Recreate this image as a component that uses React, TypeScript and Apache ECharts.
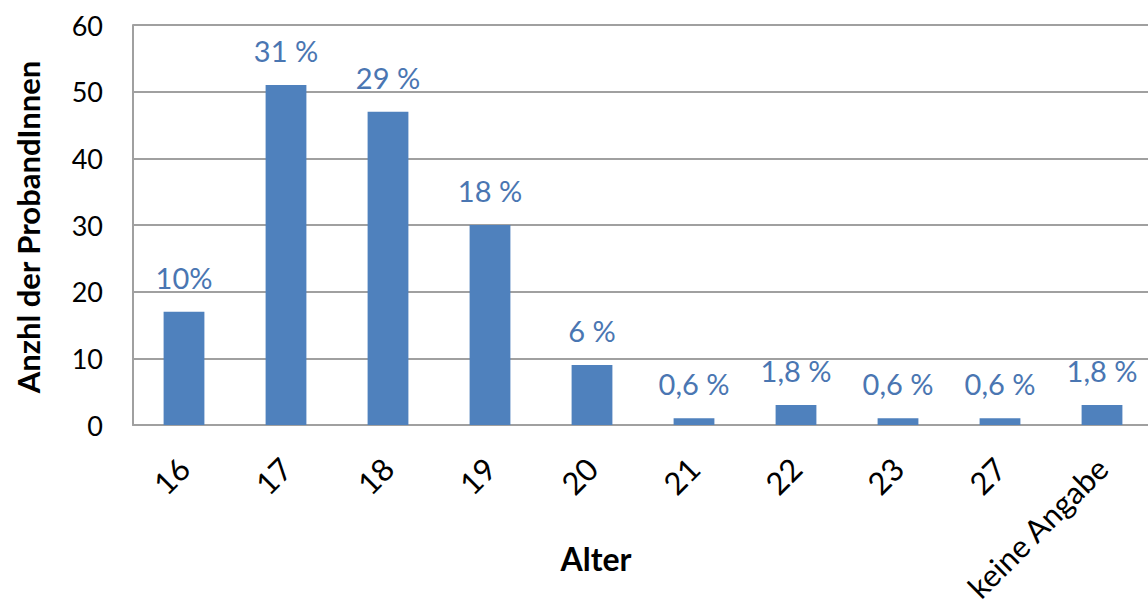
import React, { useEffect, useRef } from "react";
import * as echarts from "echarts";

const categories = ["16", "17", "18", "19", "20", "21", "22", "23", "27", "keine Angabe"];
const counts = [17, 51, 47, 30, 9, 1, 3, 1, 1, 3];
const percentLabels = ["10%", "31 %", "29 %", "18 %", "6 %", "0,6 %", "1,8 %", "0,6 %", "0,6 %", "1,8 %"];
const yTicks = { min: 0, max: 60, interval: 10 };
const yTitle = "Anzhl der ProbandInnen";
const xTitle = "Alter";

export default function App() {
  const ref = useRef<HTMLDivElement>(null);
  useEffect(() => {
    document.body.style.margin = "0";
    if (!ref.current) return;
    const chart = echarts.init(ref.current, null, { renderer: "svg" });
    const font = "Lato, 'Open Sans', sans-serif";
    chart.setOption({
      animation: false,
      backgroundColor: "#ffffff",
      grid: { left: 133, right: 7, top: 25, bottom: 185, containLabel: false },
      xAxis: {
        type: "category",
        data: categories,
        axisLine: { show: true, lineStyle: { color: "#a0a0a0", width: 2 } },
        axisTick: { show: false },
        axisLabel: {
          rotate: 45,
          margin: 38,
          fontSize: 31,
          color: "#000000",
          fontFamily: font,
          interval: 0,
        },
      },
      yAxis: {
        type: "value",
        min: yTicks.min,
        max: yTicks.max,
        interval: yTicks.interval,
        axisLine: { show: true, lineStyle: { color: "#a0a0a0", width: 2 } },
        axisTick: { show: false },
        splitLine: { show: true, lineStyle: { color: "#a0a0a0", width: 2 } },
        axisLabel: { fontSize: 27, color: "#000000", margin: 30, fontFamily: font },
      },
      graphic: [
        {
          type: "text",
          x: 28,
          y: 227,
          rotation: Math.PI / 2,
          style: {
            text: yTitle,
            font: `bold 31px ${font}`,
            fill: "#000000",
            textAlign: "center",
            textVerticalAlign: "middle",
          },
        },
        {
          type: "text",
          x: 596,
          y: 558,
          style: {
            text: xTitle,
            font: `bold 32px ${font}`,
            fill: "#000000",
            textAlign: "center",
            textVerticalAlign: "middle",
          },
        },
      ],
      series: [
        {
          type: "bar",
          data: counts,
          barWidth: "40%",
          itemStyle: { color: "#4F81BD" },
          label: {
            show: true,
            position: "top",
            distance: 20,
            fontSize: 29,
            color: "#4A76B2",
            fontFamily: font,
            formatter: (p: any) => percentLabels[p.dataIndex],
          },
        },
      ],
    });
    return () => chart.dispose();
  }, []);
  return (
    <div style={{ width: 1148, height: 610, overflow: "hidden", position: "relative" }}>
      <div ref={ref} style={{ width: 1160, height: 610 }} />
    </div>
  );
}
